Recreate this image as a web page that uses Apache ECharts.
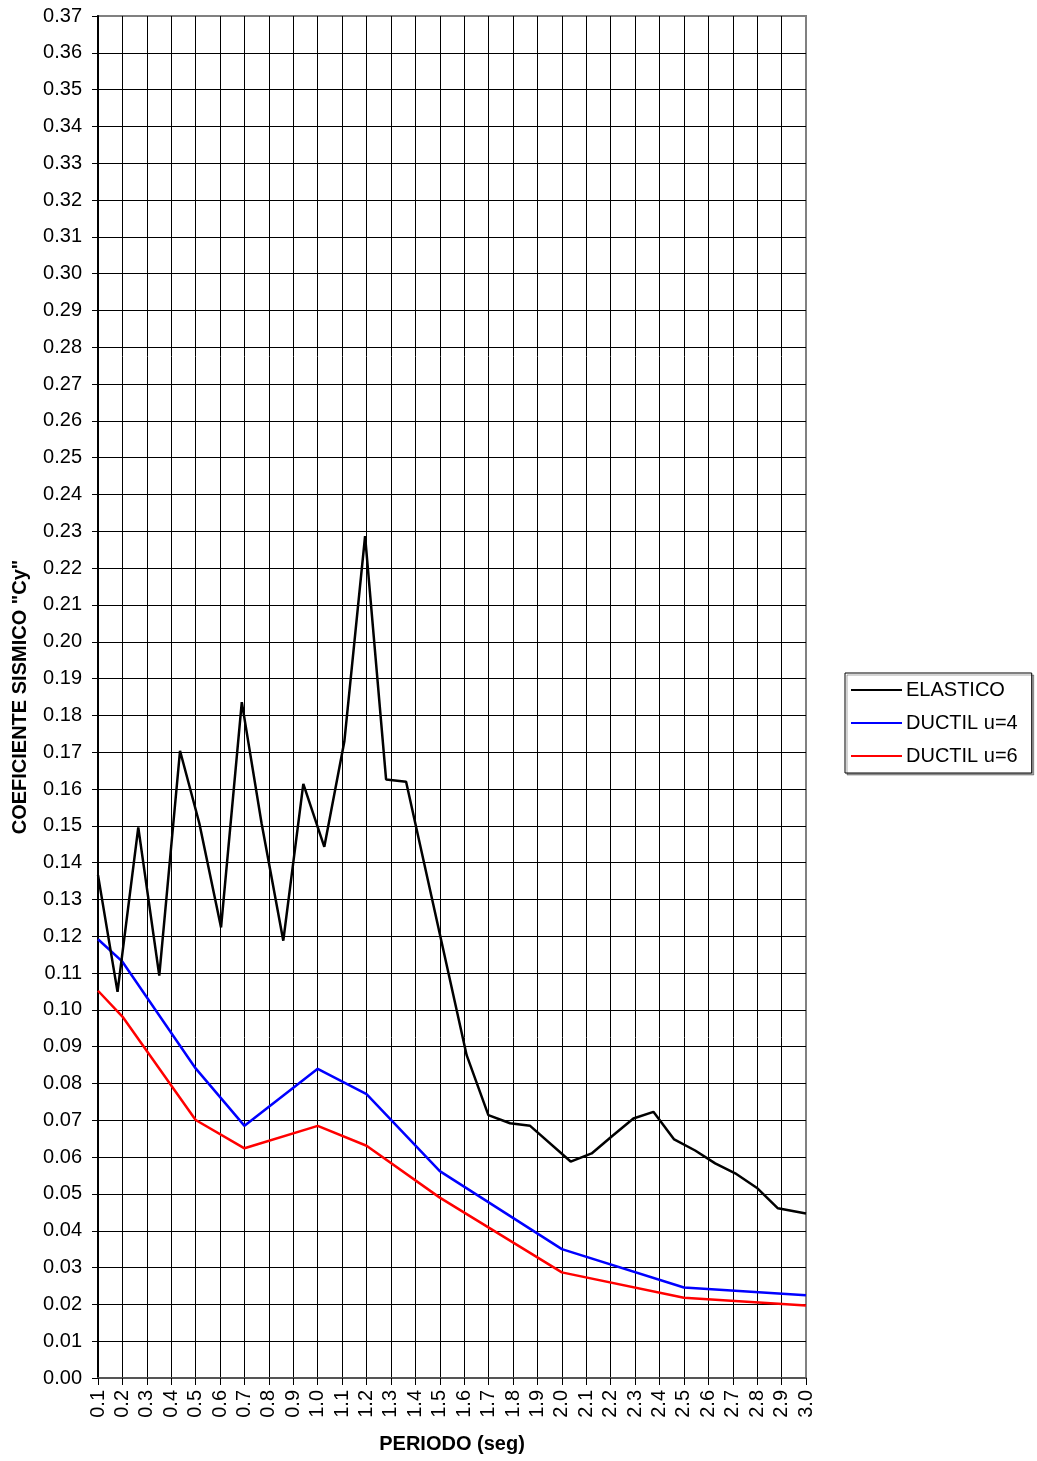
<!DOCTYPE html>
<html>
<head>
<meta charset="utf-8">
<script src="https://cdn.jsdelivr.net/npm/echarts@6/dist/echarts.min.js"></script>
<style>
html,body{margin:0;padding:0;background:#fff;}
#chart{width:1037px;height:1461px;}
</style>
</head>
<body>
<div id="chart"></div>
<script>
// ---- data ----
var seriesNames = ['ELASTICO', 'DUCTIL u=4', 'DUCTIL u=6'];
var xTitle = 'PERIODO (seg)';
var yTitle = 'COEFICIENTE SISMICO "Cy"';

var elasticoX = [0.100,0.180,0.265,0.351,0.436,0.515,0.604,0.689,0.770,0.859,0.941,1.027,1.109,1.194,1.280,1.362,1.610,1.699,1.788,1.870,2.036,2.122,2.204,2.293,2.375,2.460,2.546,2.628,2.710,2.798,2.885,3.000];
var elasticoY = [0.1366,0.1049,0.1496,0.1093,0.1704,0.1507,0.1224,0.1836,0.1507,0.1188,0.1614,0.1443,0.1729,0.2287,0.1626,0.1620,0.0877,0.0714,0.0692,0.0685,0.0588,0.0610,0.0656,0.0705,0.0723,0.0648,0.0618,0.0583,0.0556,0.0517,0.0461,0.0447];

var ductilX  = [0.1,0.2,0.5,0.7,1.0,1.2,1.5,2.0,2.5,3.0];
var ductil4Y = [0.1192,0.1131,0.0841,0.0685,0.0840,0.0771,0.0562,0.0350,0.0246,0.0225];
var ductil6Y = [0.1052,0.0982,0.0701,0.0624,0.0685,0.0631,0.0490,0.0287,0.0218,0.0197];

var xMin = 0.1, xMax = 3.0, xStep = 0.1;
var yMin = 0, yMax = 0.37, yStep = 0.01;

function pairs(xs, ys){ return xs.map(function(x,i){ return [x, ys[i]]; }); }

var FONT = '"Liberation Sans", Arial, Helvetica, sans-serif';
var chart = echarts.init(document.getElementById('chart'), null, {renderer:'canvas'});
chart.setOption({
  animation: false,
  backgroundColor: '#ffffff',
  textStyle: {fontFamily: FONT},
  grid: {left: 98, right: 231, top: 16, bottom: 83, show: true, borderColor: '#808080', borderWidth: 2, backgroundColor: 'transparent'},
  legend: {
    left: 845, top: 673, orient: 'vertical',
    padding: [7, 14, 7, 6],
    itemWidth: 51, itemHeight: 2, itemGap: 13,
    icon: 'rect',
    borderColor: '#000', borderWidth: 1, backgroundColor: '#fff',
    shadowColor: 'rgba(0,0,0,0.35)', shadowOffsetX: 2, shadowOffsetY: 2, shadowBlur: 0,
    textStyle: {fontSize: 20, color: '#000', fontFamily: FONT, padding: [0,0,0,-1], lineHeight: 20},
    data: seriesNames
  },
  xAxis: {
    type: 'value', min: xMin, max: xMax, interval: xStep,
    name: xTitle, nameLocation: 'middle', nameGap: 56,
    nameTextStyle: {fontSize: 20, fontWeight: 'bold', color: '#000', fontFamily: FONT},
    axisLine: {show: true, onZero: false, lineStyle: {color: '#555', width: 2}},
    axisTick: {show: true, length: 7, lineStyle: {color: '#000'}},
    axisLabel: {rotate: 90, fontSize: 20, color: '#000', margin: 12, fontFamily: FONT,
      formatter: function(v){ return (+v).toFixed(1); }},
    splitLine: {show: true, showMaxLine: false, showMinLine: false, lineStyle: {color: '#000', width: 1}}
  },
  yAxis: {
    type: 'value', min: yMin, max: yMax, interval: yStep,
    name: yTitle, nameLocation: 'middle', nameGap: 68,
    nameTextStyle: {fontSize: 20, fontWeight: 'bold', color: '#000', fontFamily: FONT},
    axisLine: {show: true, lineStyle: {color: '#000', width: 2}},
    axisTick: {show: true, length: 6, lineStyle: {color: '#000'}},
    axisLabel: {fontSize: 20, color: '#000', margin: 16, fontFamily: FONT,
      formatter: function(v){ return (+v).toFixed(2); }},
    splitLine: {show: true, showMaxLine: false, showMinLine: false, lineStyle: {color: '#000', width: 1}}
  },
  series: [
    {name: seriesNames[0], type: 'line', symbol: 'none', data: pairs(elasticoX, elasticoY),
     lineStyle: {color: '#000000', width: 2.5}, itemStyle: {color: '#000000'}, z: 5},
    {name: seriesNames[1], type: 'line', symbol: 'none', data: pairs(ductilX, ductil4Y),
     lineStyle: {color: '#0000ff', width: 2.5}, itemStyle: {color: '#0000ff'}, z: 4},
    {name: seriesNames[2], type: 'line', symbol: 'none', data: pairs(ductilX, ductil6Y),
     lineStyle: {color: '#ff0000', width: 2.5}, itemStyle: {color: '#ff0000'}, z: 3}
  ]
});
</script>
</body>
</html>
